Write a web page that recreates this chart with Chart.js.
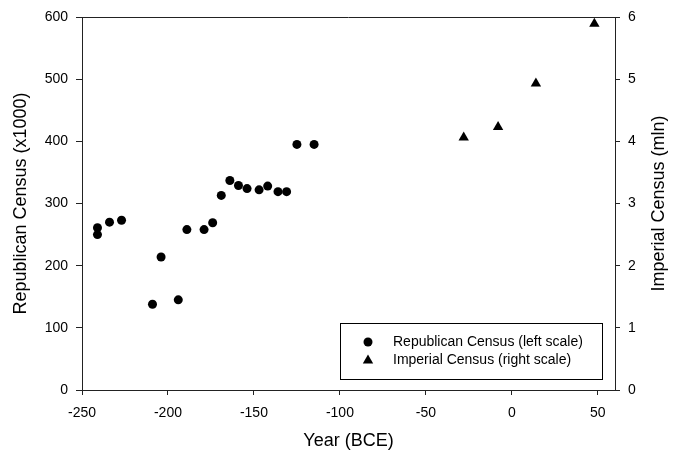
<!DOCTYPE html>
<html><head><meta charset="utf-8">
<script src="https://cdn.jsdelivr.net/npm/chart.js@4/dist/chart.umd.min.js"></script>
<style>html,body{margin:0;padding:0;background:#fff}#wrap{width:679px;height:451px;position:relative}</style>
</head><body><div id="wrap"><canvas id="c" width="679" height="451"></canvas></div>
<script>
const repYears = [-241,-241,-234,-227,-209,-204,-194,-189,-179,-174,-169,-164,-159,-154,-147,-142,-136,-131,-125,-115];
const repValues = [261,250,270,273,138,214,145,258,258,269,313,337,329,324,322,328,319,319,395,395];
const impYears = [-28,-8,14,48];
const impValues = [4.06,4.23,4.93,5.89];
const xTicks = [-250,-200,-150,-100,-50,0,50];
const leftTicks = [0,100,200,300,400,500,600];
const rightTicks = [0,1,2,3,4,5,6];
const repLabel = 'Republican Census (left scale)';
const impLabel = 'Imperial Census (right scale)';
const rightTitle = 'Imperial Census (mln)';

const FONT = '"Liberation Sans", Arial, sans-serif';
const AX = '#222';

const frame = {
  id: 'frame',
  afterDraw(chart) {
    const {ctx, chartArea: a} = chart;
    ctx.save();
    ctx.strokeStyle = AX; ctx.lineWidth = 1;
    ctx.beginPath(); ctx.moveTo(a.left, a.top + 0.5); ctx.lineTo(a.right, a.top + 0.5); ctx.stroke();
    // right axis title, reading bottom to top
    ctx.save();
    ctx.translate(chart.width - 20, (a.top + a.bottom) / 2);
    ctx.rotate(-Math.PI / 2);
    ctx.font = '18px ' + FONT; ctx.fillStyle = '#000';
    ctx.textAlign = 'center'; ctx.textBaseline = 'middle';
    ctx.fillText(rightTitle, 0, 0);
    ctx.restore();
    // legend box
    const bx = a.left + 258, by = a.bottom - 67, bw = 262, bh = 56;
    ctx.strokeStyle = '#000';
    ctx.strokeRect(bx + 0.5, by + 0.5, bw, bh);
    const mx = bx + 28;
    const y1 = by + 19, y2 = by + 37.5;
    ctx.fillStyle = '#000';
    ctx.beginPath(); ctx.arc(mx, y1, 4.5, 0, Math.PI * 2); ctx.fill();
    const r = 6;
    ctx.beginPath();
    ctx.moveTo(mx, y2 - r);
    ctx.lineTo(mx + r * Math.sin(2 * Math.PI / 3), y2 - r * Math.cos(2 * Math.PI / 3));
    ctx.lineTo(mx + r * Math.sin(4 * Math.PI / 3), y2 - r * Math.cos(4 * Math.PI / 3));
    ctx.closePath(); ctx.fill();
    ctx.font = '14px ' + FONT;
    ctx.textAlign = 'left'; ctx.textBaseline = 'middle';
    ctx.fillText(chart.data.datasets[0].label, bx + 53, y1);
    ctx.fillText(chart.data.datasets[1].label, bx + 53, y2);
    ctx.restore();
  }
};

new Chart(document.getElementById('c'), {
  type: 'scatter',
  data: {
    datasets: [
      { label: repLabel, data: repYears.map((x, i) => ({x, y: repValues[i]})), yAxisID: 'y',
        pointStyle: 'circle', pointRadius: 4.5, backgroundColor: '#000', borderWidth: 0 },
      { label: impLabel, data: impYears.map((x, i) => ({x, y: impValues[i]})), yAxisID: 'y2',
        pointStyle: 'triangle', pointRadius: 6, backgroundColor: '#000', borderWidth: 0 }
    ]
  },
  options: {
    responsive: false, animation: false,
    layout: { padding: { top: 17, left: 0, right: 0, bottom: 0 } },
    plugins: { legend: { display: false }, tooltip: { enabled: false } },
    scales: {
      x: {
        type: 'linear', position: 'bottom', min: -250, max: 60,
        afterBuildTicks: s => { s.ticks = xTicks.map(v => ({value: v})); },
        afterFit: s => { s.height = 61; },
        grid: { drawOnChartArea: false, drawTicks: true, tickLength: 5, color: AX },
        border: { display: true, color: AX, width: 1 },
        ticks: { color: '#000', padding: 10, font: { size: 14, family: FONT }, maxRotation: 0 },
        title: { display: true, text: 'Year (BCE)', color: '#000', font: { size: 18, family: FONT, lineHeight: 1 }, padding: { top: 0, bottom: 1 } }
      },
      y: {
        type: 'linear', position: 'left', min: 0, max: 600,
        afterBuildTicks: s => { s.ticks = leftTicks.map(v => ({value: v})); },
        afterFit: s => { s.width = 82; },
        grid: { drawOnChartArea: false, drawTicks: true, tickLength: 6, color: AX },
        border: { display: true, color: AX, width: 1 },
        ticks: { color: '#000', padding: 8, font: { size: 14, family: FONT } },
        title: { display: true, text: 'Republican Census (x1000)', color: '#000', font: { size: 18, family: FONT, lineHeight: 1 }, padding: { top: 12, bottom: 0 } }
      },
      y2: {
        type: 'linear', position: 'right', min: 0, max: 6,
        afterBuildTicks: s => { s.ticks = rightTicks.map(v => ({value: v})); },
        afterFit: s => { s.width = 64; },
        grid: { drawOnChartArea: false, drawTicks: true, tickLength: 5, color: AX },
        border: { display: true, color: AX, width: 1 },
        ticks: { color: '#000', padding: 8, font: { size: 14, family: FONT } },
        title: { display: false }
      }
    }
  },
  plugins: [frame]
});
</script>
</body></html>
